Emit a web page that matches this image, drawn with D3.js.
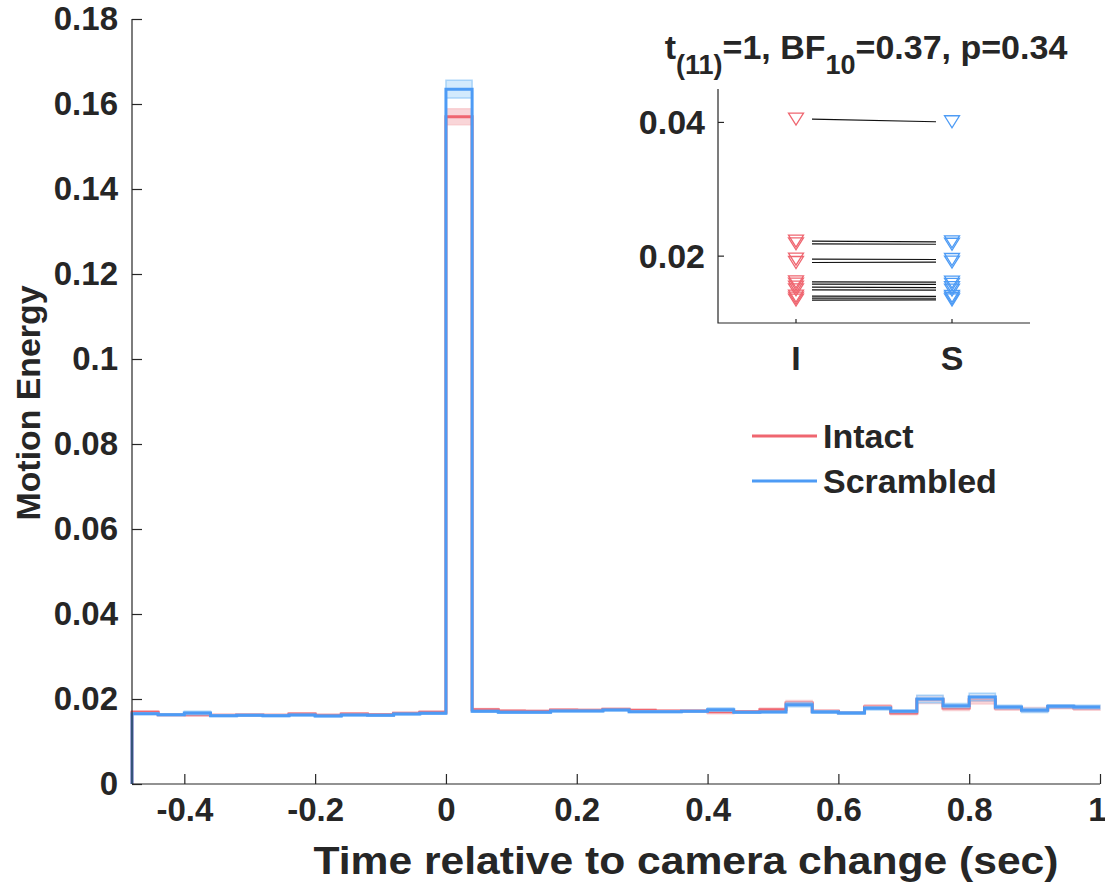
<!DOCTYPE html>
<html>
<head>
<meta charset="utf-8">
<script src="https://cdn.jsdelivr.net/npm/d3@7"></script>
<style>
  body { margin: 0; background: #fff; }
  text { font-family: "Liberation Sans", Arial, sans-serif; font-weight: bold; fill: #262626; }
</style>
</head>
<body>
<script>
// bins of 40 ms, start times (sec)
const binStarts = [-0.48, -0.44, -0.40, -0.36, -0.32, -0.28, -0.24, -0.20, -0.16, -0.12, -0.08, -0.04,
  0.00, 0.04, 0.08, 0.12, 0.16, 0.20, 0.24, 0.28, 0.32, 0.36, 0.40, 0.44, 0.48, 0.52, 0.56, 0.60,
  0.64, 0.68, 0.72, 0.76, 0.80, 0.84, 0.88, 0.92, 0.96];
const binEnd = 1.0;

const intactMean = [0.01686, 0.01631, 0.01631, 0.01616, 0.01624, 0.01616, 0.01647, 0.01616, 0.01647, 0.01631,
  0.01663, 0.01686, 0.1570, 0.01749, 0.01718, 0.01710, 0.01741, 0.01733, 0.01757, 0.01733, 0.01718,
  0.01718, 0.01702, 0.01702, 0.01749, 0.01906, 0.01710, 0.01678, 0.01812, 0.01671, 0.01984, 0.01788,
  0.01984, 0.01788, 0.01749, 0.01812, 0.01788];
const intactSem = [0.0004, 0.0002, 0.0003, 0.0002, 0.0002, 0.0002, 0.0003, 0.0002, 0.0003, 0.0002, 0.0002,
  0.0003, 0.0019, 0.0003, 0.0002, 0.0002, 0.0002, 0.0002, 0.0002, 0.0002, 0.0002, 0.0002, 0.0005, 0.0002,
  0.0004, 0.0006, 0.0003, 0.0002, 0.0005, 0.0004, 0.0009, 0.0006, 0.0010, 0.0005, 0.0005, 0.0004, 0.0005];

const scrambledMean = [0.01655, 0.01631, 0.01671, 0.01608, 0.01616, 0.01608, 0.01624, 0.01600, 0.01624, 0.01616,
  0.01647, 0.01663, 0.1635, 0.01710, 0.01686, 0.01686, 0.01718, 0.01718, 0.01741, 0.01702, 0.01702,
  0.01710, 0.01749, 0.01686, 0.01694, 0.01867, 0.01694, 0.01671, 0.01780, 0.01710, 0.02000, 0.01843,
  0.02047, 0.01812, 0.01733, 0.01827, 0.01812];
const scrambledSem = [0.0002, 0.0002, 0.0004, 0.0002, 0.0002, 0.0002, 0.0002, 0.0002, 0.0002, 0.0002, 0.0002,
  0.0002, 0.0021, 0.0002, 0.0002, 0.0002, 0.0002, 0.0002, 0.0002, 0.0002, 0.0002, 0.0002, 0.0004, 0.0002,
  0.0002, 0.0005, 0.0003, 0.0003, 0.0004, 0.0003, 0.0009, 0.0005, 0.0009, 0.0004, 0.0005, 0.0004, 0.0004];

const xTicks = [-0.4, -0.2, 0, 0.2, 0.4, 0.6, 0.8, 1];
const yTicks = [0, 0.02, 0.04, 0.06, 0.08, 0.1, 0.12, 0.14, 0.16, 0.18];

// inset: per-subject mean motion energy (12 subjects)
const insetCats = ["I", "S"];
const subjIntact = [0.0405, 0.02224, 0.02184, 0.01955, 0.01905, 0.01616, 0.01581, 0.01536, 0.01496, 0.01402, 0.01372, 0.01342];
const subjScrambled = [0.0401, 0.02214, 0.02178, 0.01950, 0.01912, 0.01612, 0.01578, 0.01530, 0.01492, 0.01398, 0.01370, 0.01345];
const insetYTicks = [0.02, 0.04];

const seriesNames = ["Intact", "Scrambled"];

//colors
const red = "#ef6670", blue = "#4d9bf5";
const redBand = "#f7c3c8", blueBand = "#b5dcfb", blueEdge = "#8fc6f7";
const axisColor = "#262626";

const width = 1105, height = 883;

const svg = d3.select("body").append("svg")
  .attr("width", width)
  .attr("height", height)
  .style("background", "#fff");

const x = d3.scaleLinear().domain([-0.48, 1]).range([132, 1100]);
const y = d3.scaleLinear().domain([0, 0.18]).range([784, 19]);

// step data : each bin + closing point at 1.0
const stepData = (means, sems) => {
  const pts = binStarts.map((t, i) => ({ t: t, m: means[i], s: sems[i] }));
  const last = pts[pts.length - 1];
  pts.push({ t: binEnd, m: last.m, s: last.s });
  return pts;
};

const bandArea = d3.area()
  .curve(d3.curveStepAfter)
  .x((d) => x(d.t))
  .y0((d) => y(d.m - d.s))
  .y1((d) => y(d.m + d.s));

const meanLine = d3.line()
  .curve(d3.curveStepAfter)
  .x((d) => x(d.t))
  .y((d) => y(d.m));

const drawSeries = (means, sems, lineColor, fill, edge, fillOpacity) => {
  const pts = stepData(means, sems);
  svg.append("path")
    .attr("d", bandArea(pts))
    .attr("fill", fill)
    .attr("fill-opacity", fillOpacity)
    .attr("stroke", edge)
    .attr("stroke-width", 1.5)
    .attr("stroke-opacity", 0.7);
  // line starts from zero at the left edge
  const linePts = [{ t: binStarts[0], m: 0 }].concat(pts);
  svg.append("path")
    .attr("d", meanLine(linePts))
    .attr("fill", "none")
    .attr("stroke", lineColor)
    .attr("stroke-width", 3);
};

drawSeries(intactMean, intactSem, red, redBand, redBand, 0.7);
drawSeries(scrambledMean, scrambledSem, blue, blueBand, blueEdge, 0.6);

// axes
const xAxis = d3.axisBottom(x)
  .tickValues(xTicks)
  .tickSize(-10)
  .tickPadding(14)
  .tickFormat((d) => (d === 0 ? "0" : String(d)));
const yAxis = d3.axisLeft(y)
  .tickValues(yTicks)
  .tickSize(-10)
  .tickPadding(14)
  .tickFormat((d) => (d === 0 ? "0" : String(d)));

const gx = svg.append("g")
  .attr("transform", "translate(0," + y(0) + ")")
  .call(xAxis);
const gy = svg.append("g")
  .attr("transform", "translate(" + x(-0.48) + ",0)")
  .call(yAxis);

[gx, gy].forEach((g) => {
  g.select(".domain").attr("stroke", axisColor).attr("stroke-width", 1.2);
  g.selectAll(".tick line").attr("stroke", axisColor).attr("stroke-width", 1.2);
  g.selectAll(".tick text")
    .style("font-size", "33px")
    .style("font-family", "Liberation Sans, Arial, sans-serif")
    .style("font-weight", "bold")
    .attr("fill", axisColor);
});
gy.select(".domain").attr("d", "M0," + y(0.18) + "V" + y(0));
gx.select(".domain").attr("d", "M" + x(-0.48) + ",0H" + x(1));
// keep the last label ("1") inside the picture
gx.selectAll(".tick text").filter((d) => d === 1)
  .attr("text-anchor", "end")
  .attr("x", 6);

svg.append("text")
  .attr("x", 686)
  .attr("y", 874)
  .attr("text-anchor", "middle")
  .attr("textLength", 745)
  .attr("lengthAdjust", "spacingAndGlyphs")
  .style("font-size", "38px")
  .text("Time relative to camera change (sec)");

svg.append("text")
  .attr("transform", "translate(40,403) rotate(-90)")
  .attr("text-anchor", "middle")
  .attr("textLength", 235)
  .attr("lengthAdjust", "spacingAndGlyphs")
  .style("font-size", "33px")
  .text("Motion Energy");

// legend
const legend = svg.append("g").attr("id", "legend");
const legendColors = [red, blue];
seriesNames.forEach((name, i) => {
  const ly = 436 + i * 45;
  legend.append("line")
    .attr("x1", 752).attr("x2", 817)
    .attr("y1", ly).attr("y2", ly)
    .attr("stroke", legendColors[i])
    .attr("stroke-width", 3);
  legend.append("text")
    .attr("x", 823)
    .attr("y", ly + 12)
    .style("font-size", "34px")
    .text(name);
});

// inset
const ix = d3.scalePoint().domain(insetCats).range([796, 952]);
const iy = d3.scaleLinear().domain([0.01, 0.045]).range([323, 89]);
const inset = svg.append("g").attr("id", "inset");

inset.append("path")
  .attr("d", "M718,89V323H1030")
  .attr("fill", "none")
  .attr("stroke", axisColor)
  .attr("stroke-width", 1.2);

insetYTicks.forEach((v) => {
  inset.append("line")
    .attr("x1", 718).attr("x2", 724)
    .attr("y1", iy(v)).attr("y2", iy(v))
    .attr("stroke", axisColor).attr("stroke-width", 1.2);
  inset.append("text")
    .attr("x", 705)
    .attr("y", iy(v) + 12)
    .attr("text-anchor", "end")
    .style("font-size", "34px")
    .text(String(v));
});
insetCats.forEach((c) => {
  inset.append("line")
    .attr("x1", ix(c)).attr("x2", ix(c))
    .attr("y1", 323).attr("y2", 319)
    .attr("stroke", axisColor).attr("stroke-width", 1.2);
  inset.append("text")
    .attr("x", ix(c))
    .attr("y", 370)
    .attr("text-anchor", "middle")
    .style("font-size", "34px")
    .text(c);
});

// paired lines
const xi = ix("I"), xs = ix("S"), gap = 16;
subjIntact.forEach((v, i) => {
  inset.append("line")
    .attr("x1", xi + gap).attr("x2", xs - gap)
    .attr("y1", iy(v)).attr("y2", iy(subjScrambled[i]))
    .attr("stroke", "#111").attr("stroke-width", 1.2);
});

const tri = "M-7.5,-6L7.5,-6L0,6Z";
const drawMarkers = (vals, cx, color) => {
  inset.selectAll(null)
    .data(vals)
    .enter()
    .append("path")
    .attr("d", tri)
    .attr("transform", (d) => "translate(" + cx + "," + iy(d) + ")")
    .attr("fill", "none")
    .attr("stroke", color)
    .attr("stroke-width", 1.3);
};
drawMarkers(subjIntact, xi, red);
drawMarkers(subjScrambled, xs, blue);

// inset title with subscripts
const title = svg.append("text")
  .attr("x", 866)
  .attr("y", 59)
  .attr("text-anchor", "middle")
  .style("font-size", "34px");
title.append("tspan").text("t");
title.append("tspan").attr("dy", 15).style("font-size", "27px").text("(11)");
title.append("tspan").attr("dy", -15).text("=1, BF");
title.append("tspan").attr("dy", 15).style("font-size", "27px").text("10");
title.append("tspan").attr("dy", -15).text("=0.37, p=0.34");
</script>
</body>
</html>
